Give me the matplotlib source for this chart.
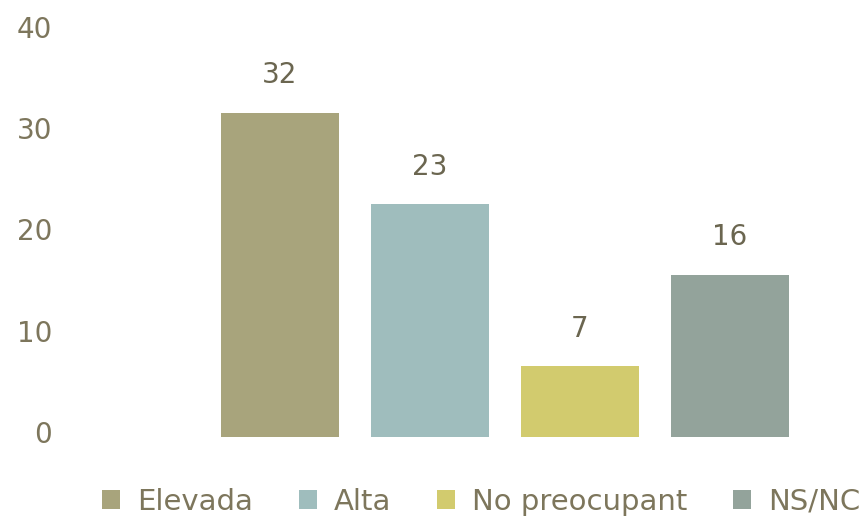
import matplotlib
matplotlib.use("Agg")
import matplotlib.pyplot as plt
import matplotlib.transforms as mtransforms
from matplotlib.patches import Patch

# ---------- 数据 ----------
categories = ["Elevada", "Alta", "No preocupant", "NS/NC"]
values = [32, 23, 7, 16]
colors = ["#a8a47c", "#9fbdbd", "#d2cb6e", "#93a39b"]
yticks = [0, 10, 20, 30, 40]

TEXT = "#7d765c"
VAL = "#6b6650"

plt.rcParams["font.family"] = ["DejaVu Sans"]

W, H = 861, 518
fig = plt.figure(figsize=(W / 100, H / 100), dpi=100)
ax = fig.add_axes([70 / W, 1 - 437 / H, (850 - 70) / W, (437 - 32) / H])

x = list(range(len(categories)))
bars = ax.bar(x, values, width=118 / 150, color=colors)
ax.bar_label(bars, labels=[str(v) for v in values], padding=17,
             fontsize=20, color=VAL)

ax.set_xlim((70 - 280) / 150, (850 - 280) / 150)
ax.set_ylim(0, 40)
ax.set_yticks(yticks)
ax.set_yticklabels([str(t) for t in yticks])
ax.tick_params(axis="y", length=0, pad=13, labelsize=20, labelcolor=TEXT)
# 刻度文字略微上移
off = mtransforms.ScaledTranslation(0, 5 / 100, fig.dpi_scale_trans)
for lab in ax.get_yticklabels():
    lab.set_transform(lab.get_transform() + off)
ax.set_xticks([])
for s in ax.spines.values():
    s.set_visible(False)

handles = [Patch(facecolor=c, edgecolor="none") for c in colors]
fig.legend(handles, categories, loc="center", bbox_to_anchor=(0.559, 1 - 502 / H),
           ncol=4, frameon=False, fontsize=21, labelcolor=TEXT,
           handlelength=0.62, handleheight=0.62, handletextpad=0.6,
           columnspacing=1.55, borderpad=0)

fig.savefig("out.png", dpi=100)
